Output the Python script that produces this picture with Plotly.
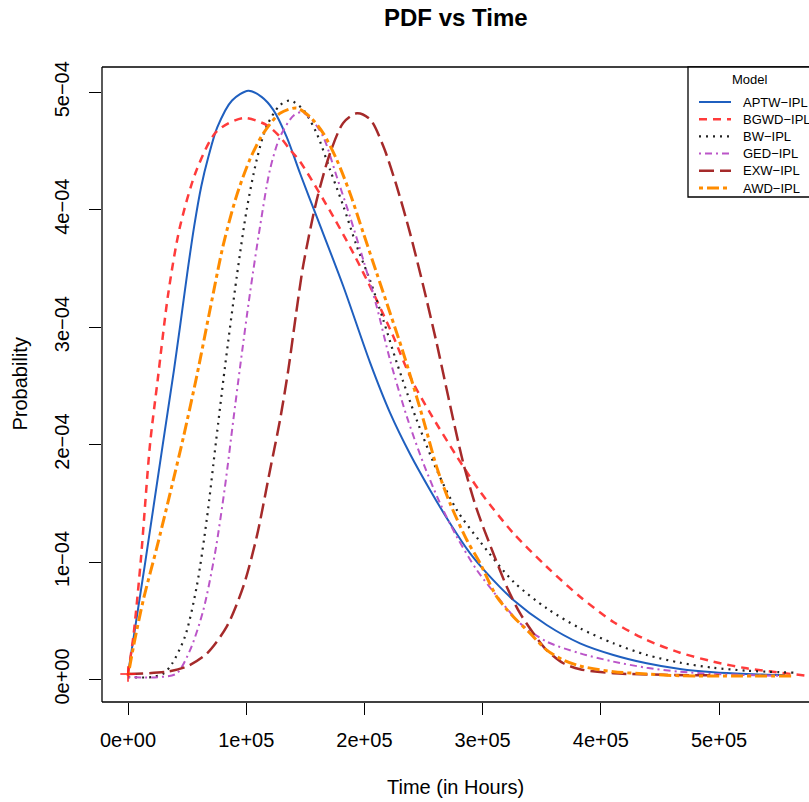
import plotly.graph_objects as go

# ---------------- data (time in units of 1e5 hours, probability in units of 1e-4) ----------------
T_UNIT = 1e5
P_UNIT = 1e-4

aptw_t = [0, 0.146, 0.294, 0.389, 0.44, 0.5, 0.56, 0.62, 0.68, 0.755, 0.88, 1.018, 1.13, 1.229, 1.342,
          1.455, 1.596, 1.822, 2.047, 2.217, 2.386, 2.555, 2.724, 2.893, 3.035, 3.26, 3.542, 3.824, 4.106,
          4.388, 4.67, 4.952, 5.234, 5.558]
aptw_p = [0.047, 1.0, 2.0, 2.636, 3.005, 3.45, 3.86, 4.2, 4.45, 4.7, 4.93, 5.013, 4.96, 4.85, 4.62,
          4.31, 3.94, 3.346, 2.70, 2.27, 1.92, 1.614, 1.33, 1.075, 0.905, 0.677, 0.464, 0.308, 0.209,
          0.138, 0.089, 0.061, 0.047, 0.038]

bgwd_t = [0, 0.045, 0.107, 0.186, 0.251, 0.341, 0.44, 0.581, 0.75, 0.975, 1.173, 1.286, 1.371, 1.455,
          1.737, 1.906, 2.075, 2.24, 2.40, 2.555, 2.781, 2.978, 3.26, 3.542, 3.824, 4.106, 4.388, 4.67,
          4.952, 5.234, 5.76]
bgwd_p = [0.047, 0.365, 1.0, 2.0, 2.55, 3.29, 3.857, 4.34, 4.666, 4.78, 4.72, 4.62, 4.51, 4.41,
          3.94, 3.63, 3.29, 2.93, 2.55, 2.27, 1.90, 1.60, 1.245, 0.96, 0.705, 0.49, 0.336, 0.228,
          0.152, 0.095, 0.03]

bw_t = [0, 0.2, 0.3, 0.37, 0.482, 0.581, 0.666, 0.745, 0.82, 0.92, 1.004, 1.089, 1.173, 1.286, 1.371,
        1.483, 1.596, 1.709, 1.822, 1.935, 2.047, 2.16, 2.273, 2.442, 2.611, 2.781, 2.978, 3.26, 3.542,
        3.824, 4.106, 4.388, 4.67, 4.952, 5.234, 5.63]
bw_p = [0.02, 0.02, 0.05, 0.13, 0.365, 0.79, 1.36, 2.03, 2.66, 3.43, 4.0, 4.425, 4.71, 4.89, 4.93,
        4.85, 4.65, 4.34, 4.03, 3.69, 3.40, 3.06, 2.70, 2.21, 1.785, 1.444, 1.174, 0.833, 0.606,
        0.436, 0.308, 0.209, 0.143, 0.10, 0.075, 0.058]

ged_t = [0, 0.25, 0.41, 0.525, 0.637, 0.736, 0.82, 0.891, 0.948, 1.032, 1.117, 1.201, 1.286, 1.399,
         1.47, 1.56, 1.652, 1.766, 1.878, 1.991, 2.104, 2.217, 2.358, 2.499, 2.64, 2.781, 2.95, 3.147,
         3.316, 3.542, 3.824, 4.106, 4.388, 4.67, 4.952, 5.234, 5.55]
ged_p = [0.02, 0.02, 0.05, 0.25, 0.59, 1.075, 1.64, 2.21, 2.66, 3.29, 3.857, 4.34, 4.62, 4.80,
         4.83, 4.76, 4.62, 4.28, 3.94, 3.57, 3.175, 2.72, 2.24, 1.84, 1.50, 1.216, 0.933, 0.677,
         0.479, 0.322, 0.223, 0.152, 0.10, 0.066, 0.047, 0.038, 0.03]

exw_t = [0, 0.327, 0.497, 0.666, 0.835, 0.975, 1.089, 1.201, 1.286, 1.356, 1.42, 1.483, 1.596, 1.709,
         1.822, 1.935, 2.047, 2.16, 2.273, 2.386, 2.499, 2.611, 2.668, 2.752, 2.837, 2.95, 3.09, 3.204,
         3.316, 3.429, 3.542, 3.683, 3.824, 4.106, 4.529, 5.0]
exw_p = [0.047, 0.066, 0.11, 0.22, 0.45, 0.79, 1.216, 1.78, 2.21, 2.636, 3.1, 3.53, 4.08, 4.48,
         4.74, 4.82, 4.77, 4.54, 4.20, 3.80, 3.346, 2.864, 2.60, 2.21, 1.84, 1.45, 1.075, 0.79,
         0.564, 0.394, 0.25, 0.138, 0.087, 0.053, 0.04, 0.035]

awd_t = [0, 0.05, 0.13, 0.243, 0.355, 0.468, 0.581, 0.694, 0.806, 0.919, 1.032, 1.145, 1.286, 1.427,
         1.54, 1.652, 1.766, 1.878, 1.991, 2.104, 2.217, 2.329, 2.499, 2.611, 2.724, 2.865, 2.978,
         3.119, 3.26, 3.401, 3.542, 3.683, 3.824, 4.106, 4.388, 4.67, 5.63]
awd_p = [0.03, 0.3, 0.68, 1.12, 1.58, 2.06, 2.58, 3.15, 3.70, 4.12, 4.43, 4.65, 4.82, 4.865,
         4.79, 4.65, 4.425, 4.14, 3.80, 3.46, 3.12, 2.78, 2.21, 1.81, 1.50, 1.19, 0.99,
         0.705, 0.535, 0.394, 0.25, 0.166, 0.115, 0.066, 0.047, 0.032, 0.03]

start_t = [0]
start_p = [0.047]

model_names = ["APTW\u2212IPL", "BGWD\u2212IPL", "BW\u2212IPL", "GED\u2212IPL", "EXW\u2212IPL", "AWD\u2212IPL"]
x_tick_vals = [0, 1, 2, 3, 4, 5]
x_tick_text = ["0e+00", "1e+05", "2e+05", "3e+05", "4e+05", "5e+05"]
y_tick_vals = [0, 1, 2, 3, 4, 5]
y_tick_text = ["0e+00", "1e\u221204", "2e\u221204", "3e\u221204", "4e\u221204", "5e\u221204"]

# ---------------- styles ----------------
colors = ["#1f5fbf", "#ff3b3b", "#222222", "#bb55c8", "#a52a2a", "#ff8c00"]
dashes = ["solid", "8px,6px", "2px,5px", "2px,4px,7px,4px", "15px,6px", "4px,4px,12px,4px"]
widths = [2.0, 2.5, 2.2, 2.0, 2.5, 3.0]

series = [(aptw_t, aptw_p), (bgwd_t, bgwd_p), (bw_t, bw_p), (ged_t, ged_p), (exw_t, exw_p), (awd_t, awd_p)]

W, H = 809, 802
ML, MR, MT, MB = 102, 0, 67, 100
PW = W - ML - MR
PH = H - MT - MB
FONT = "Liberation Sans, Arial, Helvetica, sans-serif"


def fx(px):
    return (px - ML) / PW


def fy(py):
    return (H - MB - py) / PH


fig = go.Figure()
for (t, p), name, c, d, w in zip(series, model_names, colors, dashes, widths):
    fig.add_trace(go.Scatter(
        x=[v * T_UNIT for v in t], y=[v * P_UNIT for v in p], mode="lines", name=name,
        line=dict(color=c, dash=d, width=w, shape="spline", smoothing=0.8),
        showlegend=False, hoverinfo="skip"))

fig.add_trace(go.Scatter(
    x=[v * T_UNIT for v in start_t], y=[v * P_UNIT for v in start_p], mode="markers",
    marker=dict(symbol="cross-thin", size=11, line=dict(color="#ff2020", width=1.5)),
    showlegend=False, hoverinfo="skip"))

fig.update_xaxes(
    range=[-0.22 * T_UNIT, 5.761 * T_UNIT], showgrid=False, zeroline=False, showline=False,
    ticks="outside", ticklen=12, tickwidth=1.3, tickcolor="black",
    tickvals=[v * T_UNIT for v in x_tick_vals], ticktext=x_tick_text,
    tickfont=dict(family=FONT, size=20, color="black"), ticklabelstandoff=8)
fig.update_yaxes(
    range=[-0.1917 * P_UNIT, 5.2147 * P_UNIT], showgrid=False, zeroline=False, showline=False,
    ticks="outside", ticklen=12, tickwidth=1.3, tickcolor="black",
    tickvals=[v * P_UNIT for v in y_tick_vals], ticktext=y_tick_text, tickangle=-90,
    tickfont=dict(family=FONT, size=20, color="black"), ticklabelstandoff=12)

shapes = [
    dict(type="line", xref="paper", yref="paper", x0=0, x1=0, y0=0, y1=1, line=dict(color="black", width=1.3)),
    dict(type="line", xref="paper", yref="paper", x0=0, x1=1.02, y0=0, y1=0, line=dict(color="black", width=1.3)),
    dict(type="line", xref="paper", yref="paper", x0=0, x1=1.02, y0=1, y1=1, line=dict(color="black", width=1.3)),
]

# legend (drawn manually, R style)
LEG_FONT = 13
leg_left, leg_top, leg_bottom = 688, 67, 197
shapes.append(dict(type="rect", xref="paper", yref="paper", x0=fx(leg_left), x1=fx(830),
                   y0=fy(leg_bottom), y1=fy(leg_top), line=dict(color="black", width=1.3),
                   fillcolor="white", layer="above"))
annotations = [dict(x=fx(750), y=fy(80), xref="paper", yref="paper", text="Model", showarrow=False,
                    font=dict(family=FONT, size=LEG_FONT, color="black"), xanchor="center", yanchor="middle")]
row0, step = 102, 17.2
for i, (name, c, d, w) in enumerate(zip(model_names, colors, dashes, widths)):
    yy = row0 + i * step
    shapes.append(dict(type="line", xref="paper", yref="paper", x0=fx(699), x1=fx(731), y0=fy(yy), y1=fy(yy),
                       line=dict(color=c, dash=d, width=w), layer="above"))
    annotations.append(dict(x=fx(741), y=fy(yy), xref="paper", yref="paper", text=name, showarrow=False,
                            font=dict(family=FONT, size=LEG_FONT, color="black"), xanchor="left",
                            yanchor="middle"))

annotations += [
    dict(x=fx(455.5), y=fy(17.5), xref="paper", yref="paper", text="<b>PDF vs Time</b>", showarrow=False,
         font=dict(family=FONT, size=24, color="black"), xanchor="center", yanchor="middle"),
    dict(x=fx(455.5), y=fy(787), xref="paper", yref="paper", text="Time (in Hours)", showarrow=False,
         font=dict(family=FONT, size=20, color="black"), xanchor="center", yanchor="middle"),
    dict(x=fx(19), y=fy(384.5), xref="paper", yref="paper", text="Probability", showarrow=False, textangle=-90,
         font=dict(family=FONT, size=20, color="black"), xanchor="center", yanchor="middle"),
]

fig.update_layout(
    width=W, height=H, margin=dict(l=ML, r=MR, t=MT, b=MB, pad=0),
    paper_bgcolor="white", plot_bgcolor="white", showlegend=False,
    shapes=shapes, annotations=annotations)

fig.write_html("out.html")
